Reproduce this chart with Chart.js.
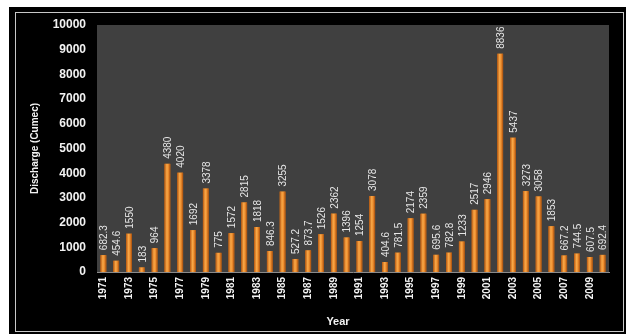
<!DOCTYPE html>
<html>
<head>
<meta charset="utf-8">
<script src="https://cdn.jsdelivr.net/npm/chart.js@4.4.0/dist/chart.umd.min.js"></script>
<style>
html, body { margin:0; padding:0; background:#fff; }
#wrap { width:630px; height:334px; }
</style>
</head>
<body>
<div id="wrap"><canvas id="myChart" width="630" height="334"></canvas></div>
<script>
// annees et debits
var years = ['1971','1972','1973','1974','1975','1976','1977','1978','1979','1980',
             '1981','1982','1983','1984','1985','1986','1987','1988','1989','1990',
             '1991','1992','1993','1994','1995','1996','1997','1998','1999','2000',
             '2001','2002','2003','2004','2005','2006','2007','2008','2009','2010'];
var discharge = [682.3, 454.6, 1550, 183, 964, 4380, 4020, 1692, 3378, 775,
                 1572, 2815, 1818, 846.3, 3255, 527.2, 873.7, 1526, 2362, 1396,
                 1254, 3078, 404.6, 781.5, 2174, 2359, 695.6, 782.8, 1233, 2517,
                 2946, 8836, 5437, 3273, 3058, 1853, 667.2, 744.5, 607.5, 692.4];
var yTicks = [0, 1000, 2000, 3000, 4000, 5000, 6000, 7000, 8000, 9000, 10000];

var police = '"Liberation Sans", Arial, sans-serif';

var cadre = {
    id: 'cadre',
    beforeDraw: function(chart) {
        var c = chart.ctx, a = chart.chartArea;
        c.save();
        c.fillStyle = '#ffffff';
        c.fillRect(0, 0, chart.width, chart.height);
        c.fillStyle = '#000000';
        c.fillRect(9, 7, 617, 327);
        c.strokeStyle = '#c8c8c8';
        c.lineWidth = 1;
        c.strokeRect(15.5, 12.5, 608, 319);
        c.fillStyle = '#404040';
        c.fillRect(a.left, a.top, a.right - a.left, a.bottom - a.top);
        c.restore();
    }
};

var etiquettes = {
    id: 'etiquettes',
    afterDatasetsDraw: function(chart) {
        var c = chart.ctx;
        var meta = chart.getDatasetMeta(0);
        c.save();
        meta.data.forEach(function(bar, i) {
            // effet cylindre
            var w = bar.width;
            var g = c.createLinearGradient(bar.x - w / 2, 0, bar.x + w / 2, 0);
            g.addColorStop(0, '#b8570f');
            g.addColorStop(0.4, '#f8a848');
            g.addColorStop(0.65, '#f09030');
            g.addColorStop(1, '#a44c0c');
            c.fillStyle = g;
            c.fillRect(bar.x - w / 2, bar.y, w, bar.base - bar.y);

            c.save();
            c.translate(bar.x + 1, bar.y - 5);
            c.rotate(-Math.PI / 2);
            c.fillStyle = '#e6e6e6';
            c.font = '10px ' + police;
            c.textAlign = 'left';
            c.textBaseline = 'middle';
            c.fillText(String(discharge[i]), 0, 0);
            c.restore();
        });
        // titre axe x
        var a = chart.chartArea;
        c.fillStyle = '#f2f2f2';
        c.font = 'bold 11px ' + police;
        c.textAlign = 'center';
        c.textBaseline = 'middle';
        c.fillText('Year', (a.left + a.right) / 2 - 15, 322);
        c.restore();
    }
};

var myChart = document.getElementById('myChart').getContext('2d');

var dataChart = new Chart(myChart, {
    type: 'bar',
    data: {
        labels: years,
        datasets: [{
            label: 'Discharge',
            data: discharge,
            backgroundColor: '#e8861f',
            barPercentage: 0.45,
            categoryPercentage: 1
        }]
    },
    options: {
        responsive: false,
        animation: false,
        layout: { padding: { left: 9, right: 21, top: 25, bottom: 0 } },
        plugins: { legend: { display: false }, tooltip: { enabled: false } },
        scales: {
            x: {
                grid: { display: false, drawTicks: false },
                border: { display: true, color: '#8a8a8a' },
                ticks: {
                    autoSkip: false,
                    minRotation: 90,
                    maxRotation: 90,
                    padding: 5,
                    color: '#f2f2f2',
                    font: { family: police, size: 10, weight: 'bold' },
                    callback: function(v, i) { return i % 2 === 0 ? years[i] : ''; }
                },
                afterFit: function(s) { s.height = 62; }
            },
            y: {
                min: 0,
                max: 10000,
                afterBuildTicks: function(s) { s.ticks = yTicks.map(function(v) { return { value: v }; }); },
                grid: { display: false, drawTicks: false },
                border: { display: false },
                ticks: {
                    padding: 11,
                    color: '#f2f2f2',
                    font: { family: police, size: 12, weight: 'bold' },
                    callback: function(v) { return String(v); }
                },
                title: {
                    display: true,
                    text: 'Discharge (Cumec)',
                    color: '#f2f2f2',
                    font: { family: police, size: 10, weight: 'bold' },
                    padding: { top: 20, bottom: 0 }
                },
                afterFit: function(s) { s.width = 88; }
            }
        }
    },
    plugins: [cadre, etiquettes]
});
</script>
</body>
</html>
